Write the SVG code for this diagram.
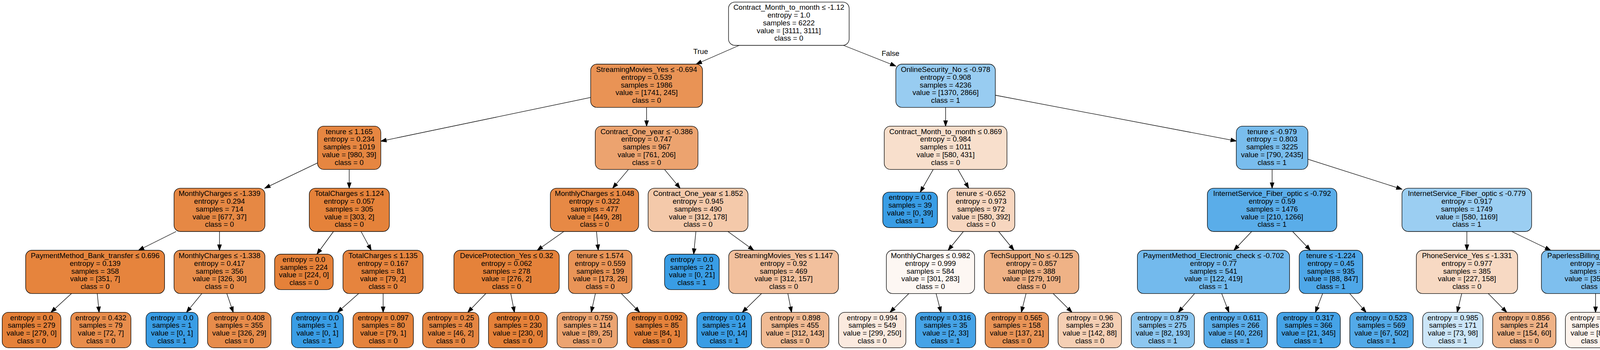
<svg xmlns="http://www.w3.org/2000/svg" width="4365" height="895" viewBox="0 0 4365 895">
<defs>
<marker id="ah" markerUnits="userSpaceOnUse" markerWidth="16" markerHeight="12" refX="14" refY="4.9" orient="auto" overflow="visible"><path d="M0,0 L14,4.9 L0,9.8 Z" fill="#000" stroke="#000" stroke-width="1.33"/></marker>
</defs>
<style>
.n rect{stroke:#000;stroke-width:1.33}
text{font-family:"Liberation Sans",Arial,Helvetica,sans-serif;font-size:18.67px;text-anchor:middle;fill:#000}
#edges line{stroke:#000;stroke-width:1.33;marker-end:url(#ah)}
</style>
<rect width="4365" height="895" fill="#fff"/>
<g id="edges">
<line x1="1892.4" y1="116" x2="1782.3" y2="164"/>
<line x1="2159.3" y1="116" x2="2293.35" y2="168.98"/>
<line x1="1512.1" y1="249.2" x2="974.9" y2="361.1"/>
<line x1="1655.3" y1="274.67" x2="1655.3" y2="322.67"/>
<line x1="2420.7" y1="274.67" x2="2420.7" y2="322.67"/>
<line x1="2548.05" y1="243.5" x2="3164.9" y2="360.6"/>
<line x1="812.9" y1="416.7" x2="677.7" y2="481.33"/>
<line x1="894" y1="433.33" x2="894" y2="481.33"/>
<line x1="1608.8" y1="433.33" x2="1568.4" y2="481.33"/>
<line x1="1701.2" y1="433.33" x2="1741.1" y2="481.33"/>
<line x1="2389" y1="433.33" x2="2355.8" y2="491.33"/>
<line x1="2452.4" y1="433.33" x2="2479.8" y2="481.33"/>
<line x1="3256.6" y1="433.33" x2="3256.6" y2="481.33"/>
<line x1="3348.3" y1="407.2" x2="3589.05" y2="483.8"/>
<line x1="450.9" y1="592" x2="354.5" y2="640"/>
<line x1="561.9" y1="592" x2="561.9" y2="640"/>
<line x1="853.7" y1="592" x2="811.2" y2="650"/>
<line x1="924.3" y1="592" x2="950.4" y2="640"/>
<line x1="1443.4" y1="592" x2="1375.3" y2="640"/>
<line x1="1527" y1="592" x2="1531.5" y2="640"/>
<line x1="1781.5" y1="592" x2="1775.8" y2="650"/>
<line x1="1863.4" y1="592" x2="1929.6" y2="640"/>
<line x1="2466.3" y1="592" x2="2427.2" y2="640"/>
<line x1="2556.6" y1="592" x2="2595.7" y2="640"/>
<line x1="3204.3" y1="592" x2="3158.8" y2="640"/>
<line x1="3309.1" y1="592" x2="3354.7" y2="640"/>
<line x1="3755.2" y1="592" x2="3755.2" y2="640"/>
<line x1="3869.9" y1="592" x2="3969.6" y2="640"/>
<line x1="182.9" y1="750.67" x2="130.4" y2="798.67"/>
<line x1="249" y1="750.67" x2="253.7" y2="798.67"/>
<line x1="516.7" y1="750.67" x2="477.4" y2="798.67"/>
<line x1="580.7" y1="750.67" x2="597.1" y2="798.67"/>
<line x1="918" y1="750.67" x2="863.9" y2="798.67"/>
<line x1="980.8" y1="750.67" x2="980.8" y2="798.67"/>
<line x1="1243.6" y1="750.67" x2="1197.5" y2="798.67"/>
<line x1="1307.6" y1="750.67" x2="1316.9" y2="798.67"/>
<line x1="1524.2" y1="750.67" x2="1513.5" y2="798.67"/>
<line x1="1590.7" y1="750.67" x2="1637.6" y2="798.67"/>
<line x1="1949.4" y1="750.67" x2="1900.3" y2="798.67"/>
<line x1="2016.9" y1="750.67" x2="2026.4" y2="798.67"/>
<line x1="2326.5" y1="750.67" x2="2278.4" y2="798.67"/>
<line x1="2396.4" y1="750.67" x2="2408.9" y2="798.67"/>
<line x1="2626.7" y1="750.67" x2="2614.6" y2="798.67"/>
<line x1="2696.2" y1="750.67" x2="2744.3" y2="798.67"/>
<line x1="3058.2" y1="750.67" x2="3016.4" y2="798.67"/>
<line x1="3127.6" y1="750.67" x2="3146" y2="798.67"/>
<line x1="3385.9" y1="750.67" x2="3367.4" y2="798.67"/>
<line x1="3455.4" y1="750.67" x2="3497.2" y2="798.67"/>
<line x1="3742" y1="750.67" x2="3730.3" y2="798.67"/>
<line x1="3810" y1="750.67" x2="3857.3" y2="798.67"/>
<line x1="4084.6" y1="750.67" x2="4084.6" y2="798.67"/>
<line x1="4154.4" y1="750.67" x2="4215.1" y2="798.67"/>
<text x="1793.7" y="137.7">True</text>
<text x="2279.7" y="143.3">False</text>
</g>
<g id="n0" class="n" transform="translate(2019.4,60.67)"><rect x="-154.35" y="-55.33" width="308.7" height="110.67" rx="16" fill="#ffffff"/><text><tspan x="0" y="-35.4">Contract_Month_to_month ≤ -1.12</tspan><tspan x="0" dy="19.8">entropy = 1.0</tspan><tspan x="0" dy="19.8">samples = 6222</tspan><tspan x="0" dy="19.8">value = [3111, 3111]</tspan><tspan x="0" dy="19.8">class = 0</tspan></text></g>
<g id="n1" class="n" transform="translate(1655.3,219.33)"><rect x="-143.2" y="-55.33" width="286.4" height="110.67" rx="16" fill="#e99355"/><text><tspan x="0" y="-35.4">StreamingMovies_Yes ≤ -0.694</tspan><tspan x="0" dy="19.8">entropy = 0.539</tspan><tspan x="0" dy="19.8">samples = 1986</tspan><tspan x="0" dy="19.8">value = [1741, 245]</tspan><tspan x="0" dy="19.8">class = 0</tspan></text></g>
<g id="n2" class="n" transform="translate(2420.7,219.33)"><rect x="-127.35" y="-55.33" width="254.7" height="110.67" rx="16" fill="#98ccf1"/><text><tspan x="0" y="-35.4">OnlineSecurity_No ≤ -0.978</tspan><tspan x="0" dy="19.8">entropy = 0.908</tspan><tspan x="0" dy="19.8">samples = 4236</tspan><tspan x="0" dy="19.8">value = [1370, 2866]</tspan><tspan x="0" dy="19.8">class = 1</tspan></text></g>
<g id="n3" class="n" transform="translate(893.9,378)"><rect x="-81" y="-55.33" width="162" height="110.67" rx="16" fill="#e68641"/><text><tspan x="0" y="-35.4">tenure ≤ 1.165</tspan><tspan x="0" dy="19.8">entropy = 0.234</tspan><tspan x="0" dy="19.8">samples = 1019</tspan><tspan x="0" dy="19.8">value = [980, 39]</tspan><tspan x="0" dy="19.8">class = 0</tspan></text></g>
<g id="n4" class="n" transform="translate(1655.3,378)"><rect x="-131.5" y="-55.33" width="263" height="110.67" rx="16" fill="#eca36f"/><text><tspan x="0" y="-35.4">Contract_One_year ≤ -0.386</tspan><tspan x="0" dy="19.8">entropy = 0.747</tspan><tspan x="0" dy="19.8">samples = 967</tspan><tspan x="0" dy="19.8">value = [761, 206]</tspan><tspan x="0" dy="19.8">class = 0</tspan></text></g>
<g id="n5" class="n" transform="translate(2420.7,378)"><rect x="-157.1" y="-55.33" width="314.2" height="110.67" rx="16" fill="#f8dfcc"/><text><tspan x="0" y="-35.4">Contract_Month_to_month ≤ 0.869</tspan><tspan x="0" dy="19.8">entropy = 0.984</tspan><tspan x="0" dy="19.8">samples = 1011</tspan><tspan x="0" dy="19.8">value = [580, 431]</tspan><tspan x="0" dy="19.8">class = 0</tspan></text></g>
<g id="n6" class="n" transform="translate(3256.6,378)"><rect x="-91.7" y="-55.33" width="183.4" height="110.67" rx="16" fill="#79bded"/><text><tspan x="0" y="-35.4">tenure ≤ -0.979</tspan><tspan x="0" dy="19.8">entropy = 0.803</tspan><tspan x="0" dy="19.8">samples = 3225</tspan><tspan x="0" dy="19.8">value = [790, 2435]</tspan><tspan x="0" dy="19.8">class = 1</tspan></text></g>
<g id="n7" class="n" transform="translate(561.9,536.67)"><rect x="-116.4" y="-55.33" width="232.8" height="110.67" rx="16" fill="#e68844"/><text><tspan x="0" y="-35.4">MonthlyCharges ≤ -1.339</tspan><tspan x="0" dy="19.8">entropy = 0.294</tspan><tspan x="0" dy="19.8">samples = 714</tspan><tspan x="0" dy="19.8">value = [677, 37]</tspan><tspan x="0" dy="19.8">class = 0</tspan></text></g>
<g id="n8" class="n" transform="translate(894.2,536.67)"><rect x="-102.5" y="-55.33" width="205" height="110.67" rx="16" fill="#e5823a"/><text><tspan x="0" y="-35.4">TotalCharges ≤ 1.124</tspan><tspan x="0" dy="19.8">entropy = 0.057</tspan><tspan x="0" dy="19.8">samples = 305</tspan><tspan x="0" dy="19.8">value = [303, 2]</tspan><tspan x="0" dy="19.8">class = 0</tspan></text></g>
<g id="n9" class="n" transform="translate(1521.9,536.67)"><rect x="-113" y="-55.33" width="226" height="110.67" rx="16" fill="#e78945"/><text><tspan x="0" y="-35.4">MonthlyCharges ≤ 1.048</tspan><tspan x="0" dy="19.8">entropy = 0.322</tspan><tspan x="0" dy="19.8">samples = 477</tspan><tspan x="0" dy="19.8">value = [449, 28]</tspan><tspan x="0" dy="19.8">class = 0</tspan></text></g>
<g id="n10" class="n" transform="translate(1787,536.67)"><rect x="-127.8" y="-55.33" width="255.6" height="110.67" rx="16" fill="#f4c9aa"/><text><tspan x="0" y="-35.4">Contract_One_year ≤ 1.852</tspan><tspan x="0" dy="19.8">entropy = 0.945</tspan><tspan x="0" dy="19.8">samples = 490</tspan><tspan x="0" dy="19.8">value = [312, 178]</tspan><tspan x="0" dy="19.8">class = 0</tspan></text></g>
<g id="n11" class="n" transform="translate(2329.9,536.67)"><rect x="-70" y="-45.33" width="140" height="90.67" rx="16" fill="#399de5"/><text><tspan x="0" y="-25.5">entropy = 0.0</tspan><tspan x="0" dy="19.8">samples = 39</tspan><tspan x="0" dy="19.8">value = [0, 39]</tspan><tspan x="0" dy="19.8">class = 1</tspan></text></g>
<g id="n12" class="n" transform="translate(2511.5,536.67)"><rect x="-86.35" y="-55.33" width="172.7" height="110.67" rx="16" fill="#f7d6bf"/><text><tspan x="0" y="-35.4">tenure ≤ -0.652</tspan><tspan x="0" dy="19.8">entropy = 0.973</tspan><tspan x="0" dy="19.8">samples = 972</tspan><tspan x="0" dy="19.8">value = [580, 392]</tspan><tspan x="0" dy="19.8">class = 0</tspan></text></g>
<g id="n13" class="n" transform="translate(3256.6,536.67)"><rect x="-165.75" y="-55.33" width="331.5" height="110.67" rx="16" fill="#5aade9"/><text><tspan x="0" y="-35.4">InternetService_Fiber_optic ≤ -0.792</tspan><tspan x="0" dy="19.8">entropy = 0.59</tspan><tspan x="0" dy="19.8">samples = 1476</tspan><tspan x="0" dy="19.8">value = [210, 1266]</tspan><tspan x="0" dy="19.8">class = 1</tspan></text></g>
<g id="n14" class="n" transform="translate(3755,536.67)"><rect x="-165.95" y="-55.33" width="331.9" height="110.67" rx="16" fill="#9bcef2"/><text><tspan x="0" y="-35.4">InternetService_Fiber_optic ≤ -0.779</tspan><tspan x="0" dy="19.8">entropy = 0.917</tspan><tspan x="0" dy="19.8">samples = 1749</tspan><tspan x="0" dy="19.8">value = [580, 1169]</tspan><tspan x="0" dy="19.8">class = 1</tspan></text></g>
<g id="n15" class="n" transform="translate(243.5,695.33)"><rect x="-177.85" y="-55.33" width="355.7" height="110.67" rx="16" fill="#e6843d"/><text><tspan x="0" y="-35.4">PaymentMethod_Bank_transfer ≤ 0.696</tspan><tspan x="0" dy="19.8">entropy = 0.139</tspan><tspan x="0" dy="19.8">samples = 358</tspan><tspan x="0" dy="19.8">value = [351, 7]</tspan><tspan x="0" dy="19.8">class = 0</tspan></text></g>
<g id="n16" class="n" transform="translate(561.9,695.33)"><rect x="-116.4" y="-55.33" width="232.8" height="110.67" rx="16" fill="#e78d4b"/><text><tspan x="0" y="-35.4">MonthlyCharges ≤ -1.338</tspan><tspan x="0" dy="19.8">entropy = 0.417</tspan><tspan x="0" dy="19.8">samples = 356</tspan><tspan x="0" dy="19.8">value = [326, 30]</tspan><tspan x="0" dy="19.8">class = 0</tspan></text></g>
<g id="n17" class="n" transform="translate(778,695.33)"><rect x="-75" y="-45.33" width="150" height="90.67" rx="16" fill="#e58139"/><text><tspan x="0" y="-25.5">entropy = 0.0</tspan><tspan x="0" dy="19.8">samples = 224</tspan><tspan x="0" dy="19.8">value = [224, 0]</tspan><tspan x="0" dy="19.8">class = 0</tspan></text></g>
<g id="n18" class="n" transform="translate(980.5,695.33)"><rect x="-102.5" y="-55.33" width="205" height="110.67" rx="16" fill="#e6843e"/><text><tspan x="0" y="-35.4">TotalCharges ≤ 1.135</tspan><tspan x="0" dy="19.8">entropy = 0.167</tspan><tspan x="0" dy="19.8">samples = 81</tspan><tspan x="0" dy="19.8">value = [79, 2]</tspan><tspan x="0" dy="19.8">class = 0</tspan></text></g>
<g id="n19" class="n" transform="translate(1296.8,695.33)"><rect x="-134.8" y="-55.33" width="269.6" height="110.67" rx="16" fill="#e5823a"/><text><tspan x="0" y="-35.4">DeviceProtection_Yes ≤ 0.32</tspan><tspan x="0" dy="19.8">entropy = 0.062</tspan><tspan x="0" dy="19.8">samples = 278</tspan><tspan x="0" dy="19.8">value = [276, 2]</tspan><tspan x="0" dy="19.8">class = 0</tspan></text></g>
<g id="n20" class="n" transform="translate(1536.6,695.33)"><rect x="-81.25" y="-55.33" width="162.5" height="110.67" rx="16" fill="#e99457"/><text><tspan x="0" y="-35.4">tenure ≤ 1.574</tspan><tspan x="0" dy="19.8">entropy = 0.559</tspan><tspan x="0" dy="19.8">samples = 199</tspan><tspan x="0" dy="19.8">value = [173, 26]</tspan><tspan x="0" dy="19.8">class = 0</tspan></text></g>
<g id="n21" class="n" transform="translate(1771.3,695.33)"><rect x="-70" y="-45.33" width="140" height="90.67" rx="16" fill="#399de5"/><text><tspan x="0" y="-25.5">entropy = 0.0</tspan><tspan x="0" dy="19.8">samples = 21</tspan><tspan x="0" dy="19.8">value = [0, 21]</tspan><tspan x="0" dy="19.8">class = 1</tspan></text></g>
<g id="n22" class="n" transform="translate(2006,695.33)"><rect x="-140.5" y="-55.33" width="281" height="110.67" rx="16" fill="#f2c09d"/><text><tspan x="0" y="-35.4">StreamingMovies_Yes ≤ 1.147</tspan><tspan x="0" dy="19.8">entropy = 0.92</tspan><tspan x="0" dy="19.8">samples = 469</tspan><tspan x="0" dy="19.8">value = [312, 157]</tspan><tspan x="0" dy="19.8">class = 0</tspan></text></g>
<g id="n23" class="n" transform="translate(2382,695.33)"><rect x="-112.9" y="-55.33" width="225.8" height="110.67" rx="16" fill="#fdf7f3"/><text><tspan x="0" y="-35.4">MonthlyCharges ≤ 0.982</tspan><tspan x="0" dy="19.8">entropy = 0.999</tspan><tspan x="0" dy="19.8">samples = 584</tspan><tspan x="0" dy="19.8">value = [301, 283]</tspan><tspan x="0" dy="19.8">class = 0</tspan></text></g>
<g id="n24" class="n" transform="translate(2640.7,695.33)"><rect x="-121" y="-55.33" width="242" height="110.67" rx="16" fill="#efb286"/><text><tspan x="0" y="-35.4">TechSupport_No ≤ -0.125</tspan><tspan x="0" dy="19.8">entropy = 0.857</tspan><tspan x="0" dy="19.8">samples = 388</tspan><tspan x="0" dy="19.8">value = [279, 109]</tspan><tspan x="0" dy="19.8">class = 0</tspan></text></g>
<g id="n25" class="n" transform="translate(3106.5,695.33)"><rect x="-194.85" y="-55.33" width="389.7" height="110.67" rx="16" fill="#73baed"/><text><tspan x="0" y="-35.4">PaymentMethod_Electronic_check ≤ -0.702</tspan><tspan x="0" dy="19.8">entropy = 0.77</tspan><tspan x="0" dy="19.8">samples = 541</tspan><tspan x="0" dy="19.8">value = [122, 419]</tspan><tspan x="0" dy="19.8">class = 1</tspan></text></g>
<g id="n26" class="n" transform="translate(3407.2,695.33)"><rect x="-81.25" y="-55.33" width="162.5" height="110.67" rx="16" fill="#4ea7e8"/><text><tspan x="0" y="-35.4">tenure ≤ -1.224</tspan><tspan x="0" dy="19.8">entropy = 0.45</tspan><tspan x="0" dy="19.8">samples = 935</tspan><tspan x="0" dy="19.8">value = [88, 847]</tspan><tspan x="0" dy="19.8">class = 1</tspan></text></g>
<g id="n27" class="n" transform="translate(3755.4,695.33)"><rect x="-129.6" y="-55.33" width="259.2" height="110.67" rx="16" fill="#f7d9c3"/><text><tspan x="0" y="-35.4">PhoneService_Yes ≤ -1.331</tspan><tspan x="0" dy="19.8">entropy = 0.977</tspan><tspan x="0" dy="19.8">samples = 385</tspan><tspan x="0" dy="19.8">value = [227, 158]</tspan><tspan x="0" dy="19.8">class = 0</tspan></text></g>
<g id="n28" class="n" transform="translate(4084.5,695.33)"><rect x="-138.5" y="-55.33" width="277" height="110.67" rx="16" fill="#7ebfee"/><text><tspan x="0" y="-35.4">PaperlessBilling_Yes ≤ -1.206</tspan><tspan x="0" dy="19.8">entropy = 0.825</tspan><tspan x="0" dy="19.8">samples = 1364</tspan><tspan x="0" dy="19.8">value = [353, 1011]</tspan><tspan x="0" dy="19.8">class = 1</tspan></text></g>
<g id="n29" class="n" transform="translate(80.8,844)"><rect x="-75.2" y="-45.33" width="150.4" height="90.67" rx="16" fill="#e58139"/><text><tspan x="0" y="-25.5">entropy = 0.0</tspan><tspan x="0" dy="19.8">samples = 279</tspan><tspan x="0" dy="19.8">value = [279, 0]</tspan><tspan x="0" dy="19.8">class = 0</tspan></text></g>
<g id="n30" class="n" transform="translate(258.2,844)"><rect x="-77" y="-45.33" width="154" height="90.67" rx="16" fill="#e88d4c"/><text><tspan x="0" y="-25.5">entropy = 0.432</tspan><tspan x="0" dy="19.8">samples = 79</tspan><tspan x="0" dy="19.8">value = [72, 7]</tspan><tspan x="0" dy="19.8">class = 0</tspan></text></g>
<g id="n31" class="n" transform="translate(440.4,844)"><rect x="-66.6" y="-45.33" width="133.2" height="90.67" rx="16" fill="#399de5"/><text><tspan x="0" y="-25.5">entropy = 0.0</tspan><tspan x="0" dy="19.8">samples = 1</tspan><tspan x="0" dy="19.8">value = [0, 1]</tspan><tspan x="0" dy="19.8">class = 1</tspan></text></g>
<g id="n32" class="n" transform="translate(612.5,844)"><rect x="-81.25" y="-45.33" width="162.5" height="90.67" rx="16" fill="#e78c4b"/><text><tspan x="0" y="-25.5">entropy = 0.408</tspan><tspan x="0" dy="19.8">samples = 355</tspan><tspan x="0" dy="19.8">value = [326, 29]</tspan><tspan x="0" dy="19.8">class = 0</tspan></text></g>
<g id="n33" class="n" transform="translate(812.7,844)"><rect x="-66.35" y="-45.33" width="132.7" height="90.67" rx="16" fill="#399de5"/><text><tspan x="0" y="-25.5">entropy = 0.0</tspan><tspan x="0" dy="19.8">samples = 1</tspan><tspan x="0" dy="19.8">value = [0, 1]</tspan><tspan x="0" dy="19.8">class = 1</tspan></text></g>
<g id="n34" class="n" transform="translate(981,844)"><rect x="-77.3" y="-45.33" width="154.6" height="90.67" rx="16" fill="#e5833c"/><text><tspan x="0" y="-25.5">entropy = 0.097</tspan><tspan x="0" dy="19.8">samples = 80</tspan><tspan x="0" dy="19.8">value = [79, 1]</tspan><tspan x="0" dy="19.8">class = 0</tspan></text></g>
<g id="n35" class="n" transform="translate(1153.9,844)"><rect x="-71.95" y="-45.33" width="143.9" height="90.67" rx="16" fill="#e68642"/><text><tspan x="0" y="-25.5">entropy = 0.25</tspan><tspan x="0" dy="19.8">samples = 48</tspan><tspan x="0" dy="19.8">value = [46, 2]</tspan><tspan x="0" dy="19.8">class = 0</tspan></text></g>
<g id="n36" class="n" transform="translate(1325.7,844)"><rect x="-75.2" y="-45.33" width="150.4" height="90.67" rx="16" fill="#e58139"/><text><tspan x="0" y="-25.5">entropy = 0.0</tspan><tspan x="0" dy="19.8">samples = 230</tspan><tspan x="0" dy="19.8">value = [230, 0]</tspan><tspan x="0" dy="19.8">class = 0</tspan></text></g>
<g id="n37" class="n" transform="translate(1503.3,844)"><rect x="-77.3" y="-45.33" width="154.6" height="90.67" rx="16" fill="#eca471"/><text><tspan x="0" y="-25.5">entropy = 0.759</tspan><tspan x="0" dy="19.8">samples = 114</tspan><tspan x="0" dy="19.8">value = [89, 25]</tspan><tspan x="0" dy="19.8">class = 0</tspan></text></g>
<g id="n38" class="n" transform="translate(1681.9,844)"><rect x="-77" y="-45.33" width="154" height="90.67" rx="16" fill="#e5823b"/><text><tspan x="0" y="-25.5">entropy = 0.092</tspan><tspan x="0" dy="19.8">samples = 85</tspan><tspan x="0" dy="19.8">value = [84, 1]</tspan><tspan x="0" dy="19.8">class = 0</tspan></text></g>
<g id="n39" class="n" transform="translate(1854,844)"><rect x="-70" y="-45.33" width="140" height="90.67" rx="16" fill="#399de5"/><text><tspan x="0" y="-25.5">entropy = 0.0</tspan><tspan x="0" dy="19.8">samples = 14</tspan><tspan x="0" dy="19.8">value = [0, 14]</tspan><tspan x="0" dy="19.8">class = 1</tspan></text></g>
<g id="n40" class="n" transform="translate(2035.4,844)"><rect x="-86.6" y="-45.33" width="173.2" height="90.67" rx="16" fill="#f1bb94"/><text><tspan x="0" y="-25.5">entropy = 0.898</tspan><tspan x="0" dy="19.8">samples = 455</tspan><tspan x="0" dy="19.8">value = [312, 143]</tspan><tspan x="0" dy="19.8">class = 0</tspan></text></g>
<g id="n41" class="n" transform="translate(2232.9,844)"><rect x="-86.15" y="-45.33" width="172.3" height="90.67" rx="16" fill="#fbeadf"/><text><tspan x="0" y="-25.5">entropy = 0.994</tspan><tspan x="0" dy="19.8">samples = 549</tspan><tspan x="0" dy="19.8">value = [299, 250]</tspan><tspan x="0" dy="19.8">class = 0</tspan></text></g>
<g id="n42" class="n" transform="translate(2420.7,844)"><rect x="-77" y="-45.33" width="154" height="90.67" rx="16" fill="#45a3e7"/><text><tspan x="0" y="-25.5">entropy = 0.316</tspan><tspan x="0" dy="19.8">samples = 35</tspan><tspan x="0" dy="19.8">value = [2, 33]</tspan><tspan x="0" dy="19.8">class = 1</tspan></text></g>
<g id="n43" class="n" transform="translate(2603.2,844)"><rect x="-81.25" y="-45.33" width="162.5" height="90.67" rx="16" fill="#e99457"/><text><tspan x="0" y="-25.5">entropy = 0.565</tspan><tspan x="0" dy="19.8">samples = 158</tspan><tspan x="0" dy="19.8">value = [137, 21]</tspan><tspan x="0" dy="19.8">class = 0</tspan></text></g>
<g id="n44" class="n" transform="translate(2789.8,844)"><rect x="-81.25" y="-45.33" width="162.5" height="90.67" rx="16" fill="#f5cfb4"/><text><tspan x="0" y="-25.5">entropy = 0.96</tspan><tspan x="0" dy="19.8">samples = 230</tspan><tspan x="0" dy="19.8">value = [142, 88]</tspan><tspan x="0" dy="19.8">class = 0</tspan></text></g>
<g id="n45" class="n" transform="translate(2976.8,844)"><rect x="-81" y="-45.33" width="162" height="90.67" rx="16" fill="#8dc7f0"/><text><tspan x="0" y="-25.5">entropy = 0.879</tspan><tspan x="0" dy="19.8">samples = 275</tspan><tspan x="0" dy="19.8">value = [82, 193]</tspan><tspan x="0" dy="19.8">class = 1</tspan></text></g>
<g id="n46" class="n" transform="translate(3163.3,844)"><rect x="-81.25" y="-45.33" width="162.5" height="90.67" rx="16" fill="#5caeea"/><text><tspan x="0" y="-25.5">entropy = 0.611</tspan><tspan x="0" dy="19.8">samples = 266</tspan><tspan x="0" dy="19.8">value = [40, 226]</tspan><tspan x="0" dy="19.8">class = 1</tspan></text></g>
<g id="n47" class="n" transform="translate(3350,844)"><rect x="-81.25" y="-45.33" width="162.5" height="90.67" rx="16" fill="#45a3e7"/><text><tspan x="0" y="-25.5">entropy = 0.317</tspan><tspan x="0" dy="19.8">samples = 366</tspan><tspan x="0" dy="19.8">value = [21, 345]</tspan><tspan x="0" dy="19.8">class = 1</tspan></text></g>
<g id="n48" class="n" transform="translate(3536.7,844)"><rect x="-81.25" y="-45.33" width="162.5" height="90.67" rx="16" fill="#53aae8"/><text><tspan x="0" y="-25.5">entropy = 0.523</tspan><tspan x="0" dy="19.8">samples = 569</tspan><tspan x="0" dy="19.8">value = [67, 502]</tspan><tspan x="0" dy="19.8">class = 1</tspan></text></g>
<g id="n49" class="n" transform="translate(3719.3,844)"><rect x="-77.3" y="-45.33" width="154.6" height="90.67" rx="16" fill="#cce6f8"/><text><tspan x="0" y="-25.5">entropy = 0.985</tspan><tspan x="0" dy="19.8">samples = 171</tspan><tspan x="0" dy="19.8">value = [73, 98]</tspan><tspan x="0" dy="19.8">class = 1</tspan></text></g>
<g id="n50" class="n" transform="translate(3902,844)"><rect x="-81.25" y="-45.33" width="162.5" height="90.67" rx="16" fill="#efb286"/><text><tspan x="0" y="-25.5">entropy = 0.856</tspan><tspan x="0" dy="19.8">samples = 214</tspan><tspan x="0" dy="19.8">value = [154, 60]</tspan><tspan x="0" dy="19.8">class = 0</tspan></text></g>
<g id="n51" class="n" transform="translate(4084.7,844)"><rect x="-77.3" y="-45.33" width="154.6" height="90.67" rx="16" fill="#fdf3ec"/><text><tspan x="0" y="-25.5">entropy = 0.998</tspan><tspan x="0" dy="19.8">samples = 162</tspan><tspan x="0" dy="19.8">value = [85, 77]</tspan><tspan x="0" dy="19.8">class = 0</tspan></text></g>
<g id="n52" class="n" transform="translate(4272.4,844)"><rect x="-86.6" y="-45.33" width="173.2" height="90.67" rx="16" fill="#72b9ec"/><text><tspan x="0" y="-25.5">entropy = 0.766</tspan><tspan x="0" dy="19.8">samples = 1202</tspan><tspan x="0" dy="19.8">value = [268, 934]</tspan><tspan x="0" dy="19.8">class = 1</tspan></text></g>
</svg>
